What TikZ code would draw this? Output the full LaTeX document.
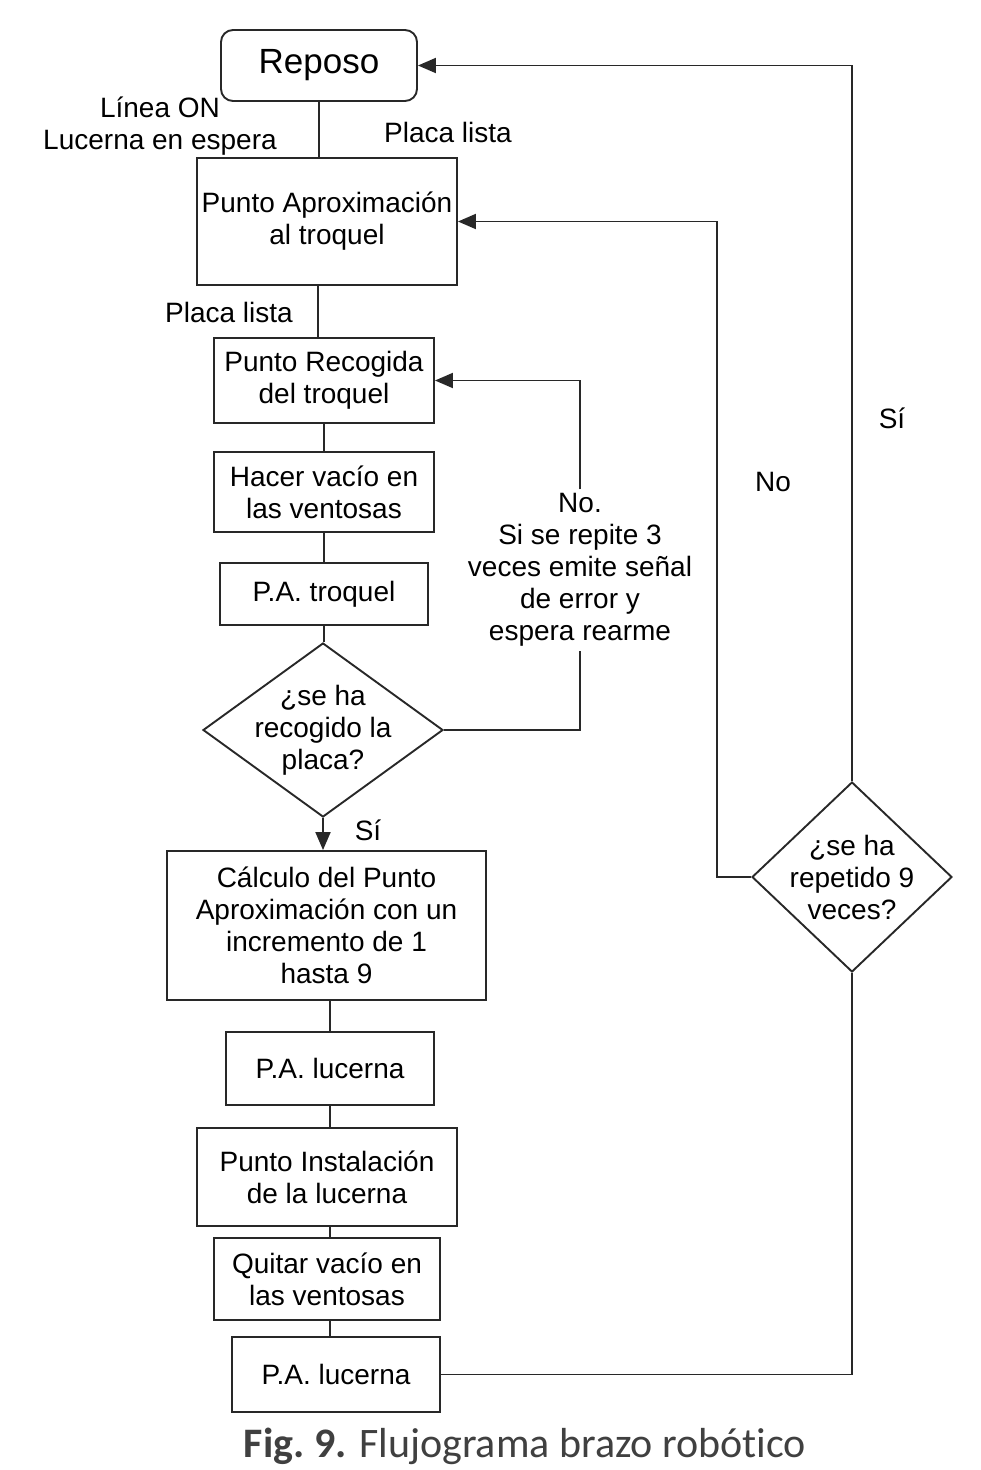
\documentclass[tikz,border=0pt]{standalone}
\usepackage{fontspec}
\setmainfont{Liberation Sans}
\newfontfamily\capfont{Carlito}[Ligatures=NoCommon]
\usetikzlibrary{shapes.geometric,arrows.meta}
\definecolor{ln}{RGB}{40,40,40}
\definecolor{capc}{RGB}{64,64,64}
\begin{document}
\begin{tikzpicture}[x=1pt,y=-1pt,
  every node/.style={font=\fontsize{28}{32}\selectfont, text=black},
  box/.style={draw=ln, line width=1.9pt, inner sep=0pt, align=center},
  dia/.style={draw=ln, line width=1.9pt, diamond, inner sep=0pt},
  lbl/.style={align=center, inner sep=0pt},
  conn/.style={draw=ln, line width=1.9pt},
  arr/.style={conn, -{Triangle[length=18pt,width=15pt]}}]
\useasboundingbox (0,0) rectangle (981,1470);

% boxes
\node[box, rounded corners=12pt, minimum width=196pt, minimum height=71pt,
      font=\fontsize{35}{40}\selectfont] (reposo) at (319,65.5) {Reposo};
\node[box, minimum width=260pt, minimum height=127pt] (aprox) at (327,221.5) {Punto Aproximación\\al troquel};
\node[box, minimum width=220pt, minimum height=85pt] (recog) at (324,380.5) {Punto Recogida\\del troquel};
\node[box, minimum width=220pt, minimum height=80pt] (hacer) at (324,492) {Hacer vacío en\\las ventosas};
\node[box, minimum width=208pt, minimum height=62pt] (patroq) at (324,594) {P.A. troquel};
\node[dia, minimum width=240pt, minimum height=174pt] (dec1) at (323,730) {};
\node[lbl] (dec1t) at (dec1) {¿se ha\\recogido la\\placa?};
\node[box, minimum width=319pt, minimum height=149pt] (calc) at (326.5,925.5) {Cálculo del Punto\\Aproximación con un\\incremento de 1\\hasta 9};
\node[box, minimum width=208pt, minimum height=73pt] (pal1) at (330,1068.5) {P.A. lucerna};
\node[box, minimum width=260pt, minimum height=98pt] (inst) at (327,1177) {Punto Instalación\\de la lucerna};
\node[box, minimum width=226pt, minimum height=82pt] (quitar) at (327,1279) {Quitar vacío en\\las ventosas};
\node[box, minimum width=208pt, minimum height=75pt] (pal2) at (336,1374.5) {P.A. lucerna};
\node[dia, minimum width=200pt, minimum height=190pt] (dec2) at (852,877) {};
\node[lbl] (dec2t) at (dec2) {¿se ha\\repetido 9\\veces?};

% labels
\node[lbl] (l1) at (160,126) {Línea ON\\Lucerna en espera};
\node[lbl] (l2) at (448,132) {Placa lista};
\node[lbl] (l3) at (229,312) {Placa lista};
\node[lbl] (l4) at (368,830) {Sí};
\node[lbl, inner sep=4pt] (notxt) at (580,570) {No.\\Si se repite 3\\veces emite señal\\de error y\\espera rearme};
\node[lbl] (l5) at (892,418) {Sí};
\node[lbl] (l6) at (773,482) {No};

% straight connectors
\draw[conn] (reposo.south) -- (reposo.south |- aprox.north);
\draw[conn] ([xshift=-9pt]aprox.south) -- ([xshift=-9pt]aprox.south |- recog.north);
\draw[conn] (recog.south) -- (recog.south |- hacer.north);
\draw[conn] (hacer.south) -- (hacer.south |- patroq.north);
\draw[conn] (patroq.south) -- (patroq.south |- dec1.north);
\draw[arr] (dec1.south) -- (dec1.south |- calc.north);
\draw[conn] ([xshift=3.5pt]calc.south) -- ([xshift=3.5pt]calc.south |- pal1.north);
\draw[conn] (pal1.south) -- (pal1.south |- inst.north);
\draw[conn] ([xshift=3pt]inst.south) -- ([xshift=3pt]inst.south |- quitar.north);
\draw[conn] ([xshift=3pt]quitar.south) -- ([xshift=3pt]quitar.south |- pal2.north);

% loops
\draw[conn] (dec1.east) -| (notxt.south);
\draw[arr] (notxt.north) |- (recog.east);
\draw[conn] (pal2.east) -| (dec2.south);
\draw[arr] (dec2.north) |- (reposo.east);
\draw[arr] (dec2.west) -- ++(-34,0) |- (aprox.east);

% caption
\node[inner sep=0pt, font=\capfont\fontsize{42}{48}\selectfont, text=capc] (cap) at (525,1446)
  {\textbf{Fig.~9.} Flujograma brazo robótico};
\end{tikzpicture}
\end{document}
